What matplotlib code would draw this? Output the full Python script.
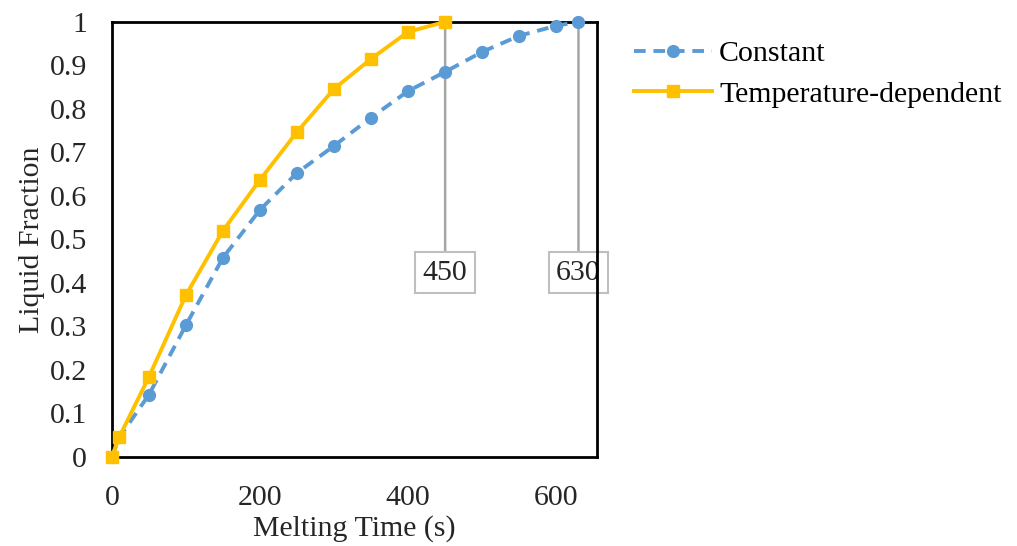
import matplotlib.pyplot as plt

# melting time (s) and liquid fraction
t_const = [0, 10, 50, 100, 150, 200, 250, 300, 350, 400, 450, 500, 550, 600, 630]
lf_const = [0, 0.045, 0.143, 0.303, 0.458, 0.568, 0.653, 0.715, 0.78, 0.841, 0.885, 0.931, 0.968, 0.991, 1.0]
t_temp = [0, 10, 50, 100, 150, 200, 250, 300, 350, 400, 450]
lf_temp = [0, 0.046, 0.184, 0.372, 0.52, 0.637, 0.747, 0.846, 0.915, 0.977, 1.0]
marks = [450, 630]

plt.rcParams['font.family'] = ['Liberation Serif', 'DejaVu Serif']
fs = 21.5

fig = plt.figure(figsize=(10.17, 5.46), dpi=100)
ax = fig.add_axes([0.110, 0.163, 0.477, 0.797])

blue = '#5B9BD5'
gold = '#FFC000'
txt = '#262626'

# leader lines + boxes
for m in marks:
    ax.annotate(str(m), xy=(m, 1.0), xytext=(m, 0.423), ha='center', va='center',
                fontsize=fs, color=txt,
                bbox=dict(boxstyle='square,pad=0.25', fc='white', ec='#BFBFBF', lw=1.5),
                arrowprops=dict(arrowstyle='-', color='#A6A6A6', lw=1.8,
                                shrinkA=0, shrinkB=0),
                zorder=1)

ax.plot(t_const, lf_const, '--', color=blue, lw=2.8, dashes=(3, 2),
        marker='o', ms=8.5, label='Constant', zorder=3, clip_on=False)
ax.plot(t_temp, lf_temp, '-', color=gold, lw=2.8,
        marker='s', ms=8.5, label='Temperature-dependent', zorder=4, clip_on=False)

ax.set_xlim(0, 655)
ax.set_ylim(0, 1)
ax.set_xticks([0, 200, 400, 600])
ax.set_yticks([i / 10 for i in range(11)])
ax.set_yticklabels(['0'] + ['%.1f' % (i / 10) for i in range(1, 10)] + ['1'])
ax.tick_params(length=0, pad=20, labelsize=fs, colors=txt)
ax.tick_params(axis='y', pad=18)
for s in ax.spines.values():
    s.set_linewidth(2)
    s.set_color('black')

ax.set_xlabel('Melting Time (s)', fontsize=fs, labelpad=3, color=txt)
ax.set_ylabel('Liquid Fraction', fontsize=fs, labelpad=3, color=txt)

fig.legend(loc='upper left', bbox_to_anchor=(0.597, 0.975), frameon=False,
           fontsize=fs, handlelength=2.6, handletextpad=0.25, labelspacing=0.45)

fig.savefig('out.png', dpi=100)
